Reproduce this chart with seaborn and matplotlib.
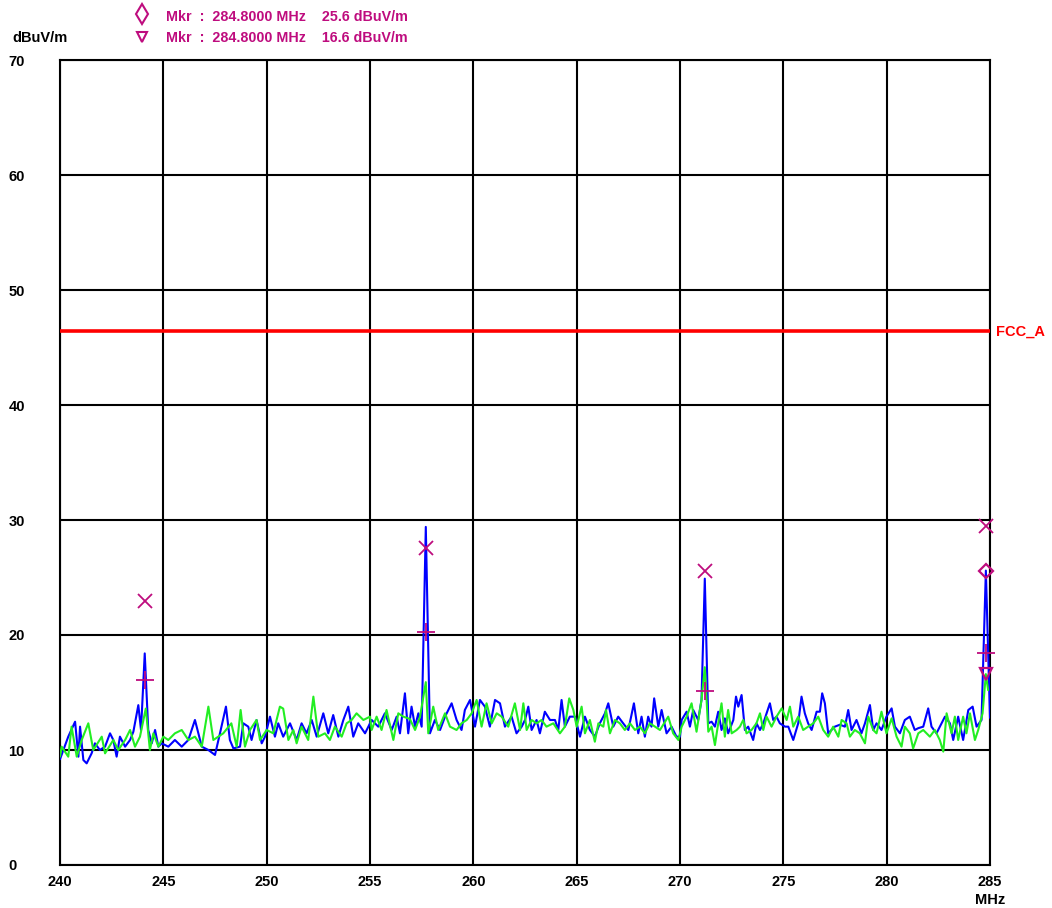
import matplotlib
matplotlib.use("Agg")
import matplotlib.pyplot as plt
from matplotlib.lines import Line2D
import numpy as np
import pandas as pd
import seaborn as sns

# ---- sweep data (MHz, dBuV/m) ----
blue_freq = [240.0, 240.40, 240.73, 240.89, 240.97, 241.13, 241.29, 241.53, 241.69, 241.93,
             242.18, 242.42, 242.58, 242.74, 242.90, 243.15, 243.39, 243.55, 243.79, 243.92,
             244.1, 244.27, 244.44, 244.60, 244.76, 244.92, 245.24, 245.56, 245.89, 246.21,
             246.53, 246.86, 247.18, 247.50, 247.74, 248.03, 248.22, 248.39, 248.71, 248.87,
             249.11, 249.27, 249.51, 249.76, 249.92, 250.16, 250.40, 250.56, 250.80, 251.13,
             251.45, 251.69, 251.93, 252.18, 252.42, 252.74, 252.98, 253.22, 253.47, 253.71,
             253.95, 254.19, 254.43, 254.76, 255.08, 255.40, 255.72, 256.05, 256.29, 256.45,
             256.69, 256.85, 257.01, 257.18, 257.34, 257.50, 257.7, 257.90, 258.14, 258.39,
             258.63, 258.95, 259.19, 259.43, 259.59, 259.84, 260.08, 260.32, 260.56, 260.80,
             261.05, 261.29, 261.53, 261.85, 262.09, 262.34, 262.50, 262.66, 262.82, 263.06,
             263.22, 263.46, 263.71, 263.95, 264.11, 264.27, 264.43, 264.67, 264.92, 265.16,
             265.40, 265.64, 265.88, 266.12, 266.37, 266.53, 266.77, 267.01, 267.25, 267.50,
             267.77, 267.98, 268.14, 268.30, 268.46, 268.62, 268.75, 268.95, 269.11, 269.35,
             269.59, 269.83, 270.00, 270.08, 270.32, 270.48, 270.64, 270.88, 271.04, 271.2,
             271.37, 271.53, 271.69, 271.85, 272.01, 272.17, 272.33, 272.58, 272.71, 272.82,
             272.98, 273.14, 273.30, 273.54, 273.70, 273.87, 274.03, 274.19, 274.35, 274.51,
             274.67, 274.83, 275.08, 275.24, 275.48, 275.72, 275.88, 276.04, 276.20, 276.37,
             276.61, 276.77, 276.88, 277.01, 277.17, 277.49, 277.74, 277.98, 278.14, 278.30,
             278.54, 278.78, 278.95, 279.19, 279.35, 279.51, 279.75, 279.99, 280.24, 280.40,
             280.64, 280.88, 281.12, 281.36, 281.53, 281.77, 282.01, 282.17, 282.41, 282.82,
             283.06, 283.22, 283.46, 283.70, 283.95, 284.16, 284.35, 284.59, 284.8, 285.0]
blue_level = [9.2, 11.16, 12.46, 9.42, 12.03, 9.13, 8.84, 9.71, 10.58, 10.0,
              10.29, 11.45, 10.87, 9.42, 11.16, 10.29, 10.87, 11.59, 13.9, 11.74,
              18.4, 11.74, 10.58, 11.74, 10.29, 10.58, 10.29, 10.87, 10.29, 10.87,
              12.61, 10.29, 10.0, 9.57, 11.45, 13.77, 10.87, 10.14, 10.29, 12.32,
              12.03, 10.87, 12.61, 10.58, 11.16, 12.90, 11.16, 12.32, 11.16, 12.32,
              10.87, 12.32, 11.45, 12.61, 11.16, 13.19, 11.45, 13.04, 11.16, 12.61,
              13.77, 11.16, 12.32, 11.45, 12.61, 12.03, 13.19, 11.74, 12.90, 11.45,
              14.93, 11.45, 13.77, 12.03, 13.19, 12.03, 29.4, 11.45, 12.61, 11.74,
              12.90, 14.06, 12.61, 11.74, 13.48, 14.35, 12.03, 14.35, 13.77, 12.03,
              14.35, 14.06, 12.03, 12.90, 11.45, 12.03, 12.61, 13.77, 11.74, 12.61,
              11.45, 13.33, 12.61, 12.61, 11.74, 14.35, 12.03, 12.90, 12.90, 11.16,
              12.90, 11.74, 11.16, 12.32, 13.19, 14.06, 12.03, 12.90, 12.32, 11.74,
              14.06, 11.45, 12.90, 11.16, 12.90, 12.03, 14.49, 12.03, 13.48, 11.45,
              12.03, 11.16, 11.16, 12.61, 13.33, 12.03, 13.48, 12.61, 14.35, 24.9,
              12.32, 12.46, 12.03, 13.33, 11.74, 12.75, 11.45, 12.61, 14.64, 13.77,
              14.78, 11.74, 12.03, 10.87, 12.32, 11.74, 12.32, 13.19, 14.06, 12.61,
              12.90, 12.32, 12.03, 12.03, 10.87, 12.32, 14.64, 13.19, 12.32, 11.74,
              13.33, 13.33, 14.93, 14.06, 11.45, 12.03, 12.2, 12.03, 13.48, 11.74,
              12.61, 11.45, 12.32, 13.91, 11.74, 12.32, 11.74, 12.90, 13.62, 12.03,
              11.45, 12.61, 12.90, 11.74, 11.9, 12.03, 13.62, 12.03, 11.45, 12.90,
              12.32, 10.87, 12.90, 10.87, 13.48, 13.77, 12.03, 12.61, 25.6, 12.8]

green_freq = [240.0, 240.08, 240.40, 240.56, 240.81, 241.05, 241.37, 241.61, 242.02, 242.18,
              242.58, 242.82, 243.15, 243.39, 243.63, 243.87, 244.15, 244.35, 244.52, 244.76,
              245.0, 245.24, 245.56, 245.89, 246.21, 246.53, 246.86, 247.18, 247.42, 247.90,
              248.29, 248.55, 248.74, 248.95, 249.19, 249.51, 249.68, 250.0, 250.32, 250.64,
              250.80, 251.05, 251.29, 251.45, 251.69, 252.01, 252.26, 252.50, 252.82, 253.06,
              253.30, 253.63, 253.87, 254.11, 254.35, 254.68, 255.0, 255.08, 255.32, 255.56,
              255.80, 256.13, 256.37, 256.61, 256.93, 257.18, 257.42, 257.7, 257.82, 258.06,
              258.30, 258.63, 258.87, 259.19, 259.43, 259.68, 259.92, 260.16, 260.40, 260.64,
              260.89, 261.13, 261.37, 261.69, 262.01, 262.26, 262.42, 262.58, 262.82, 263.06,
              263.30, 263.54, 263.87, 264.19, 264.43, 264.64, 264.84, 265.0, 265.24, 265.40,
              265.64, 265.88, 266.05, 266.29, 266.42, 266.61, 266.85, 267.09, 267.33, 267.58,
              267.82, 268.06, 268.30, 268.54, 268.79, 269.03, 269.43, 269.67, 269.92, 270.08,
              270.32, 270.56, 270.80, 271.04, 271.2, 271.37, 271.53, 271.69, 271.85, 272.01,
              272.17, 272.33, 272.50, 272.74, 272.90, 273.06, 273.22, 273.46, 273.70, 273.87,
              274.03, 274.19, 274.43, 274.67, 274.92, 275.16, 275.32, 275.48, 275.72, 275.96,
              276.20, 276.45, 276.69, 276.93, 277.17, 277.41, 277.66, 277.82, 278.06, 278.22,
              278.46, 278.70, 278.95, 279.11, 279.35, 279.51, 279.75, 279.99, 280.24, 280.48,
              280.72, 280.88, 281.12, 281.28, 281.53, 281.77, 282.09, 282.33, 282.57, 282.74,
              282.90, 283.14, 283.30, 283.46, 283.70, 283.86, 284.03, 284.27, 284.43, 284.64,
              284.8, 284.91]
green_level = [9.42, 10.29, 9.42, 12.03, 9.42, 10.87, 12.32, 10.0, 11.16, 9.71,
               10.87, 10.0, 10.87, 11.74, 10.29, 11.16, 13.6, 10.0, 11.45, 10.29,
               11.16, 10.87, 11.45, 11.74, 10.87, 11.16, 10.29, 13.77, 10.87, 11.45,
               12.32, 10.29, 13.48, 10.29, 11.74, 12.61, 10.87, 11.74, 11.45, 13.77,
               13.6, 10.87, 11.74, 10.58, 12.03, 10.87, 14.64, 11.16, 11.45, 10.87,
               12.03, 11.16, 12.32, 12.61, 13.19, 12.61, 12.90, 11.74, 12.90, 11.74,
               13.48, 10.87, 13.19, 12.90, 12.7, 11.74, 12.90, 15.9, 11.45, 13.77,
               11.74, 13.19, 12.03, 11.74, 12.32, 12.61, 13.19, 14.35, 12.03, 14.06,
               12.32, 13.19, 12.90, 12.03, 14.06, 11.74, 14.06, 11.74, 12.61, 12.32,
               12.61, 12.03, 12.32, 11.45, 12.03, 14.49, 13.48, 12.03, 13.77, 11.45,
               12.61, 10.72, 12.32, 12.03, 13.48, 11.45, 12.61, 12.32, 11.74, 12.32,
               11.74, 12.03, 11.45, 12.32, 12.03, 11.74, 12.90, 11.45, 10.87, 12.03,
               12.90, 14.06, 11.59, 14.35, 17.2, 11.59, 12.03, 10.43, 12.32, 14.06,
               11.16, 13.48, 11.45, 11.74, 12.03, 12.61, 11.45, 11.74, 12.32, 13.19,
               11.74, 12.90, 12.03, 12.90, 13.62, 12.61, 13.77, 12.03, 12.90, 11.74,
               12.03, 12.32, 12.90, 11.74, 11.16, 12.03, 11.16, 12.61, 12.32, 11.16,
               11.74, 11.45, 10.58, 12.90, 11.74, 11.45, 13.33, 11.45, 12.75, 11.16,
               10.29, 12.03, 11.45, 10.14, 11.45, 11.74, 11.16, 11.74, 10.87, 9.86,
               13.19, 11.45, 12.90, 10.87, 12.90, 11.45, 13.19, 10.87, 11.74, 13.19,
               16.6, 15.2]

# Peak / quasi-peak markers found on the spectrum
peak_freq = [244.1, 257.7, 271.2, 284.8]
peak_x_level = [23.0, 27.6, 25.6, 29.5]
peak_plus_level = [16.1, 20.3, 15.1, 18.4]

mkr_freq = 284.8
mkr_diamond_level = 25.6
mkr_triangle_level = 16.6

limit_name = "FCC_A"
limit_level = 46.4

x_ticks = [240, 245, 250, 255, 260, 265, 270, 275, 280, 285]
y_ticks = [0, 10, 20, 30, 40, 50, 60, 70]

MARK = "#BE0C7E"

sns.set_style("white")
plt.rcParams["font.family"] = ["Liberation Sans", "DejaVu Sans"]
plt.rcParams["font.weight"] = "bold"
plt.rcParams["text.color"] = "black"
plt.rcParams["xtick.color"] = "black"
plt.rcParams["ytick.color"] = "black"

fig = plt.figure(figsize=(10.52, 9.08), dpi=100)
ax = fig.add_axes([60 / 1052, 1 - 865 / 908, 930 / 1052, 805 / 908])

df_blue = pd.DataFrame({"freq": blue_freq, "level": blue_level})
df_green = pd.DataFrame({"freq": green_freq, "level": green_level})

sns.lineplot(data=df_blue, x="freq", y="level", ax=ax, color="#0000FF",
             linewidth=1.5, sort=False, zorder=3)
sns.lineplot(data=df_green, x="freq", y="level", ax=ax, color="#22EE22",
             linewidth=1.5, sort=False, zorder=4)

# limit line
ax.axhline(limit_level, color="#FF0000", linewidth=2.6, zorder=5)
ax.text(1.006, (limit_level - 0) / 70, limit_name, transform=ax.transAxes,
        color="#FF0000", fontsize=10.5, fontweight="bold", va="center", ha="left")

# markers
ax.plot(peak_freq, peak_x_level, linestyle="none", marker="x", markersize=10,
        markeredgewidth=1.3, color=MARK, zorder=6, clip_on=False)
ax.plot(peak_freq, peak_plus_level, linestyle="none", marker="+", markersize=13,
        markeredgewidth=1.3, color=MARK, zorder=6, clip_on=False)
ax.plot([mkr_freq], [mkr_diamond_level], linestyle="none", marker="D", markersize=7.5,
        markerfacecolor="none", markeredgewidth=1.6, color=MARK, zorder=6, clip_on=False)
ax.plot([mkr_freq], [mkr_triangle_level], linestyle="none", marker="v", markersize=9,
        markerfacecolor="none", markeredgewidth=1.6, color=MARK, zorder=6, clip_on=False)

ax.set_xlim(240, 285)
ax.set_ylim(0, 70)
ax.set_xticks(x_ticks)
ax.set_yticks(y_ticks)
ax.set_xticklabels([str(t) for t in x_ticks], fontsize=10.5, fontweight="bold")
ax.set_yticklabels([str(t) for t in y_ticks], fontsize=10.5, fontweight="bold")
for lab in ax.get_yticklabels():
    lab.set_horizontalalignment("left")
ax.tick_params(axis="y", length=0, pad=37)
ax.tick_params(axis="x", length=0, pad=7)
ax.set_xlabel("")
ax.set_ylabel("")

ax.grid(True, color="black", linewidth=1.5)
ax.set_axisbelow(True)
for s in ax.spines.values():
    s.set_color("black")
    s.set_linewidth(1.5)

# unit labels
fig.text(990 / 1052, 1 - 900 / 908, "MHz", ha="center", va="center",
         fontsize=10.5, fontweight="bold")
fig.text(12 / 1052, 1 - 38 / 908, "dBuV/m", ha="left", va="center",
         fontsize=10.5, fontweight="bold")

# marker readout header
fig.add_artist(Line2D([142 / 1052], [1 - 14 / 908], transform=fig.transFigure,
                      linestyle="none", marker="d", markersize=10,
                      markerfacecolor="none", markeredgewidth=1.5, color=MARK))
fig.add_artist(Line2D([142 / 1052], [1 - 37 / 908], transform=fig.transFigure,
                      linestyle="none", marker="v", markersize=7.5,
                      markerfacecolor="none", markeredgewidth=1.5, color=MARK))
fig.text(166 / 1052, 1 - 17 / 908, "Mkr  :  284.8000 MHz    25.6 dBuV/m",
         ha="left", va="center", fontsize=10.3, fontweight="bold", color=MARK)
fig.text(166 / 1052, 1 - 38 / 908, "Mkr  :  284.8000 MHz    16.6 dBuV/m",
         ha="left", va="center", fontsize=10.3, fontweight="bold", color=MARK)

fig.savefig("out.png", dpi=100)
